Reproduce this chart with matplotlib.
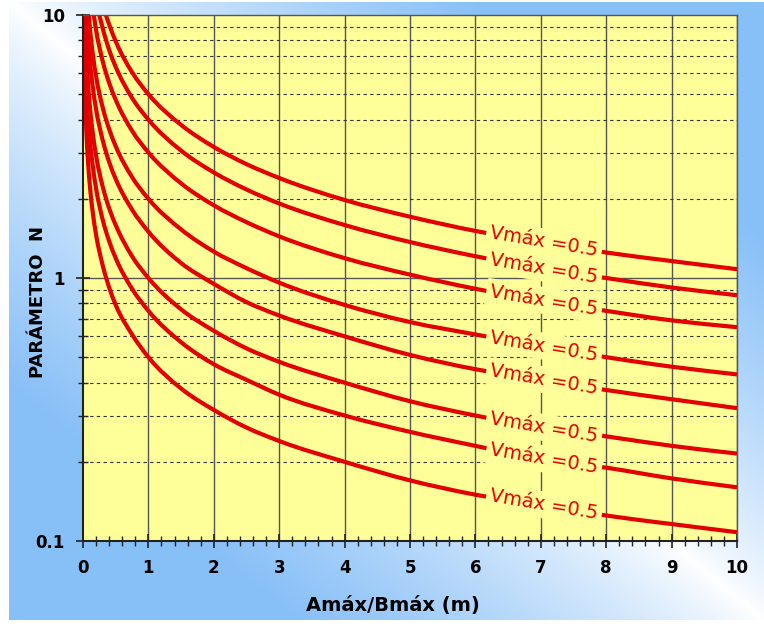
"""
Parámetro N vs Amáx/Bmáx - curvas Vmáx (escala log)
"""
import numpy as np
import matplotlib.pyplot as plt
from matplotlib.path import Path
from matplotlib.patches import PathPatch
from matplotlib.ticker import FixedLocator, NullFormatter

# =========================================================
# DATOS
# =========================================================

x_c1 = [0.35, 0.4, 0.5, 0.75, 1, 1.5, 2, 2.5, 3, 4, 5, 6, 7, 8, 9, 10]
n_c1 = [10.0, 9.2, 7.94, 6.06, 5.0, 3.82, 3.15, 2.71, 2.40, 1.98, 1.71, 1.51, 1.37, 1.25, 1.16, 1.08]

x_c2 = [0.25, 0.3, 0.4, 0.5, 0.75, 1, 1.5, 2, 2.5, 3, 4, 5, 6, 7, 8, 9, 10]
n_c2 = [10.0, 8.92, 7.36, 6.35, 4.84, 4.0, 3.05, 2.52, 2.17, 1.92, 1.59, 1.37, 1.21, 1.09, 1.0, 0.92, 0.86]

x_c3 = [0.165, 0.2, 0.3, 0.4, 0.5, 0.75, 1, 1.5, 2, 2.5, 3, 4, 5, 6, 7, 8, 9, 10]
n_c3 = [10.0, 8.76, 6.69, 5.52, 4.76, 3.63, 3.0, 2.29, 1.89, 1.63, 1.44, 1.19, 1.03, 0.91, 0.82, 0.75, 0.69, 0.65]

x_c4 = [0.09, 0.1, 0.15, 0.2, 0.3, 0.4, 0.5, 0.75, 1, 1.5, 2, 2.5, 3, 4, 5, 6, 7, 8, 9, 10]
n_c4 = [10.0, 9.28, 7.08, 5.84, 4.46, 3.68, 3.17, 2.42, 2.0, 1.53, 1.26, 1.09, 0.96, 0.79, 0.68, 0.61, 0.55, 0.50, 0.46, 0.43]

x_c5 = [0.058, 0.075, 0.1, 0.15, 0.2, 0.3, 0.4, 0.5, 0.75, 1, 1.5, 2, 2.5, 3, 4, 5, 6, 7, 8, 9, 10]
n_c5 = [10.0, 8.45, 6.96, 5.31, 4.38, 3.35, 2.76, 2.38, 1.82, 1.5, 1.14, 0.95, 0.81, 0.72, 0.60, 0.51, 0.45, 0.41, 0.375, 0.346, 0.32]

x_c6 = [0.032, 0.05, 0.075, 0.1, 0.15, 0.2, 0.3, 0.4, 0.5, 0.75, 1, 1.5, 2, 2.5, 3, 4, 5, 6, 7, 8, 9, 10]
n_c6 = [10.0, 7.37, 5.63, 4.64, 3.54, 2.92, 2.23, 1.84, 1.59, 1.21, 1.0, 0.76, 0.63, 0.54, 0.48, 0.40, 0.34, 0.30, 0.27, 0.25, 0.23, 0.215]

x_c7 = [0.021, 0.03, 0.05, 0.075, 0.1, 0.15, 0.2, 0.3, 0.4, 0.5, 0.75, 1, 1.5, 2, 2.5, 3, 4, 5, 6, 7, 8, 9, 10]
n_c7 = [10.0, 7.77, 5.53, 4.22, 3.48, 2.66, 2.19, 1.67, 1.38, 1.19, 0.91, 0.75, 0.57, 0.47, 0.41, 0.36, 0.30, 0.26, 0.23, 0.205, 0.19, 0.173, 0.16]

x_c8 = [0.011, 0.02, 0.03, 0.05, 0.075, 0.1, 0.15, 0.2, 0.3, 0.4, 0.5, 0.75, 1, 1.5, 2, 2.5, 3, 4, 5, 6, 7, 8, 9, 10]
n_c8 = [10.0, 6.79, 5.18, 3.69, 2.82, 2.32, 1.77, 1.46, 1.12, 0.92, 0.79, 0.61, 0.5, 0.38, 0.315, 0.27, 0.24, 0.20, 0.17, 0.15, 0.137, 0.125, 0.116, 0.108]

curves = [(x_c1, n_c1), (x_c2, n_c2), (x_c3, n_c3), (x_c4, n_c4),
          (x_c5, n_c5), (x_c6, n_c6), (x_c7, n_c7), (x_c8, n_c8)]

curve_labels = ['Vmáx =0.5'] * 8
label_x = 7.0

x_ticks = [0, 1, 2, 3, 4, 5, 6, 7, 8, 9, 10]
y_ticks = [0.1, 1, 10]
y_ticklabels = ['0.1', '1', '10']

# =========================================================
# ESTILO
# =========================================================
RED = '#e30000'
YELLOW = '#ffff99'
W, H = 764, 632


def smooth_path(xs, ns):
    """Curva suavizada (tipo Excel) por los puntos, Bezier en espacio (x, log N)"""
    x = np.asarray(xs, float)
    y = np.log10(np.asarray(ns, float))
    h = np.diff(x)
    d = np.diff(y) / h
    m = np.empty_like(x)
    m[0], m[-1] = d[0], d[-1]
    m[1:-1] = (d[:-1] * h[1:] + d[1:] * h[:-1]) / (h[:-1] + h[1:])
    verts = [(x[0], ns[0])]
    codes = [Path.MOVETO]
    for i in range(len(h)):
        c1 = (x[i] + h[i] / 3, 10 ** (y[i] + m[i] * h[i] / 3))
        c2 = (x[i + 1] - h[i] / 3, 10 ** (y[i + 1] - m[i + 1] * h[i] / 3))
        verts += [c1, c2, (x[i + 1], ns[i + 1])]
        codes += [Path.CURVE4] * 3
    return Path(verts, codes)


fig = plt.figure(figsize=(W / 100, H / 100), dpi=100, facecolor='white')

# fondo degradado azul / blanco
bg = fig.add_axes([9 / W, 12 / H, 1 - 9 / W, 1 - 14 / H], zorder=0)
u, v = np.meshgrid(np.linspace(0, 1, 300), np.linspace(0, 1, 300))
t = np.clip(np.abs(u - v) * 1.6, 0, 1) ** 0.8
blue = np.array([0.53, 0.75, 0.97])
img = (1 - t)[..., None] * np.array([1.0, 1.0, 1.0]) + t[..., None] * blue
bg.imshow(img, aspect='auto', extent=[0, 1, 0, 1], origin='upper')
bg.axis('off')

ax = fig.add_axes([83 / W, (H - 541) / H, (737 - 83) / W, (541 - 15) / H], zorder=1)
ax.set_facecolor(YELLOW)
ax.set_yscale('log')
ax.set_xlim(0, 10)
ax.set_ylim(0.1, 10)
ax.set_axisbelow(True)

# rejilla
for xv in x_ticks[1:]:
    ax.axvline(xv, color='#555555', lw=1.0, zorder=0.5)
ax.axhline(1, color='#555555', lw=1.0, zorder=0.5)
ax.axhline(10, color='#555555', lw=1.2, zorder=0.5)
for dec in [0.1, 1]:
    for k in range(2, 10):
        ax.axhline(dec * k, color='#333333', lw=0.8, ls=(0, (3, 3)), zorder=0.5)

# curvas
for (xs, ns), lab in zip(curves, curve_labels):
    ax.add_patch(PathPatch(smooth_path(xs, ns), fill=False, ec=RED, lw=3.0,
                           capstyle='butt', joinstyle='round', zorder=2))
    ly = ns[xs.index(label_x)]
    ax.text(label_x + 0.05, ly, lab, color=RED, fontsize=14,
            rotation=-9.5, ha='center', va='center', rotation_mode='anchor',
            zorder=3,
            bbox=dict(boxstyle='square,pad=0.2', fc=YELLOW, ec='none'))

# ejes / ticks
ax.xaxis.set_major_locator(FixedLocator(x_ticks))
ax.xaxis.set_minor_locator(FixedLocator(np.arange(0, 10.01, 0.2)))
ax.yaxis.set_major_locator(FixedLocator(y_ticks))
ax.yaxis.set_minor_locator(FixedLocator([d * k for d in [0.1, 1] for k in range(2, 10)]))
ax.yaxis.set_minor_formatter(NullFormatter())
ax.set_yticklabels(y_ticklabels)
ax.tick_params(which='major', direction='inout', length=10, width=1.2, color='#222222',
               labelsize=12, pad=8)
ax.tick_params(which='minor', direction='inout', length=7, width=1.0, color='#222222')
for lab in ax.get_xticklabels() + ax.get_yticklabels():
    lab.set_fontweight('bold')

for side in ['left', 'bottom']:
    ax.spines[side].set_color('#222222')
    ax.spines[side].set_linewidth(1.5)
for side in ['top', 'right']:
    ax.spines[side].set_color('#555555')
    ax.spines[side].set_linewidth(1.0)

ax.set_xlabel('Amáx/Bmáx (m)', fontsize=14, fontweight='bold')
ax.xaxis.set_label_coords((393 - 83) / 654, -(605 - 541) / 526)
ax.xaxis.label.set_va('center')
ax.set_ylabel('PARÁMETRO  N', fontsize=13, fontweight='bold')
ax.yaxis.set_label_coords((38 - 83) / 654, (541 - 302) / 526)
ax.yaxis.label.set_va('center')

plt.savefig('out.png', dpi=100)
